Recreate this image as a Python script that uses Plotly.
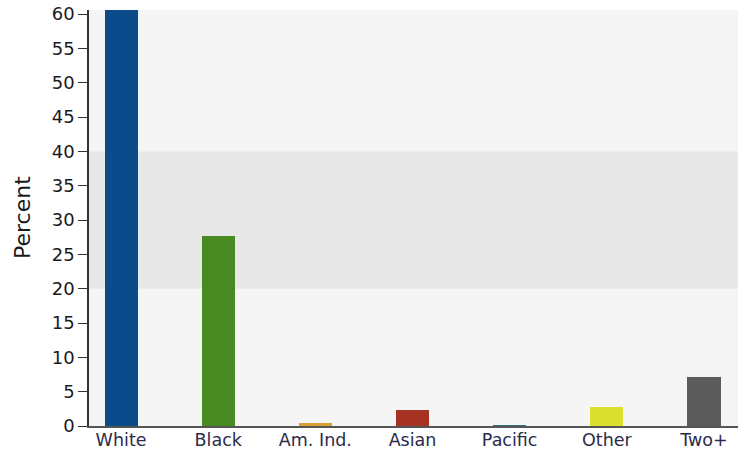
import plotly.graph_objects as go

categories = ["White", "Black", "Am. Ind.", "Asian", "Pacific", "Other", "Two+"]
percent = [60.6, 27.7, 0.4, 2.3, 0.1, 2.8, 7.1]
bar_colors = ["#0b4a8b", "#4a8a22", "#d9a033", "#a63224", "#2f6f7a", "#d9e02e", "#5b5b5b"]
y_ticks = [0, 5, 10, 15, 20, 25, 30, 35, 40, 45, 50, 55, 60]

fig = go.Figure(
    go.Bar(
        x=categories,
        y=percent,
        marker=dict(color=bar_colors, line=dict(width=0)),
        width=0.34,
    )
)

# shaded reference band between 20% and 40%
fig.add_shape(
    type="rect", xref="paper", yref="y",
    x0=0, x1=1, y0=20, y1=40,
    fillcolor="#e8e8e8", line=dict(width=0), layer="below",
)

# vertical axis title
fig.add_annotation(
    text="Percent", textangle=-90,
    xref="paper", yref="paper", x=0, y=0.5,
    xanchor="center", yanchor="middle", xshift=-67,
    showarrow=False, font=dict(size=22, color="#1a1a1a"),
)

fig.update_layout(
    width=752, height=451,
    margin=dict(l=89, r=14, t=10, b=25),
    paper_bgcolor="white",
    plot_bgcolor="#f5f5f5",
    showlegend=False,
    font=dict(family="DejaVu Sans", color="#2b2b45"),
    bargap=0,
)
fig.update_xaxes(
    range=[-0.33, 6.35],
    automargin=False,
    showgrid=False,
    showline=True, linecolor="#555555", linewidth=1.5,
    ticks="", ticklabelstandoff=-3,
    tickfont=dict(size=17.5, color="#2b2b4a"),
)
fig.update_yaxes(
    range=[0, 60.6],
    automargin=False,
    tickvals=y_ticks,
    showgrid=False, zeroline=False,
    showline=True, linecolor="#333333", linewidth=1.5,
    ticks="outside", ticklen=9, tickcolor="#333333",
    tickfont=dict(size=18, color="#1a1a1a"),
)

fig.write_html("out.html")
